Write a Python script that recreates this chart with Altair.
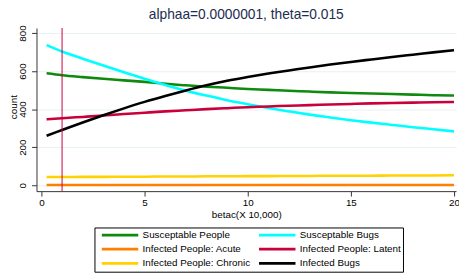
import altair as alt
import pandas as pd

# betac (X 10,000)
betac = [0.25, 1, 2, 3, 4, 5, 6, 7, 8, 9, 10, 11, 12, 13, 14, 15, 16, 17, 18, 19, 20]

susceptable_people = [588, 578, 568, 559, 551, 543, 533, 525, 518, 512, 506, 501, 496, 492, 488, 485, 482, 479, 476, 473, 471]
susceptable_bugs = [736, 703, 665, 629, 594, 560, 527, 497, 471, 447, 426, 406, 388, 371, 356, 342, 329, 317, 305, 294, 283]
infected_acute = [1, 1, 1, 1, 1, 1, 1, 1, 1, 1, 1, 1, 1, 1, 1, 1, 1, 1, 1, 1, 1]
infected_latent = [346, 352, 359, 366, 374, 381, 388, 394, 400, 405, 410, 414, 418, 421, 424, 427, 430, 432, 434, 436, 437]
infected_chronic = [43, 43, 44, 44, 45, 45, 46, 46, 47, 47, 48, 48, 49, 49, 50, 50, 50, 51, 51, 51, 52]
infected_bugs = [260, 290, 330, 368, 404, 438, 469, 498, 525, 549, 569, 587, 603, 619, 634, 648, 661, 674, 686, 698, 710]

# legend order (column-major: left column first, then right column)
series_names = [
    "Susceptable People",
    "Infected People: Acute",
    "Infected People: Chronic",
    "Susceptable Bugs",
    "Infected People: Latent",
    "Infected Bugs",
]
series_values = [
    susceptable_people,
    infected_acute,
    infected_chronic,
    susceptable_bugs,
    infected_latent,
    infected_bugs,
]
series_colors = ["#0f8a0f", "#ff8000", "#ffd200", "#00ffff", "#c8003c", "#000000"]

marker_x = [1]

y_ticks = [0, 200, 400, 600, 800]
x_ticks = [0, 5, 10, 15, 20]

rows = []
for name, vals in zip(series_names, series_values):
    for xv, yv in zip(betac, vals):
        rows.append({"betac": xv, "count": yv, "series": name})
df = pd.DataFrame(rows)

FONT = "Liberation Sans"

x_scale = alt.Scale(domain=[-0.24, 20.1], nice=False, zero=False)
y_scale = alt.Scale(domain=[-31, 826], nice=False, zero=False)

lines = alt.Chart(df).mark_line(strokeWidth=2.6, interpolate="monotone").encode(
    x=alt.X("betac:Q", scale=x_scale,
            axis=alt.Axis(values=x_ticks, title="betac(X 10,000)", grid=False,
                          tickSize=5, labelPadding=2, titlePadding=2,
                          domainColor="#333333", tickColor="#333333")),
    y=alt.Y("count:Q", scale=y_scale,
            axis=alt.Axis(values=y_ticks, title="count", grid=True, gridColor="#e8f0f2",
                          tickSize=5, labelAngle=270, labelAlign="center",
                          labelBaseline="bottom", labelPadding=4,
                          titleX=-20, titleY=80, titleAngle=270, titleAlign="center",
                          titleBaseline="alphabetic",
                          domainColor="#333333", tickColor="#333333")),
    color=alt.Color("series:N",
                    scale=alt.Scale(domain=series_names, range=series_colors),
                    sort=series_names,
                    legend=alt.Legend(
                        title=None, orient="none", legendX=59, legendY=203,
                        columns=2, columnPadding=2, rowPadding=1.5,
                        symbolType="M0,0H10", symbolSize=55, symbolStrokeWidth=3,
                        labelFontSize=10, labelFont=FONT, labelColor="#000000",
                        labelOffset=36, strokeColor="#000000", fillColor="#ffffff",
                        padding=2, labelLimit=200)),
    detail="series:N",
)

rule_df = pd.DataFrame({"x": marker_x})
rule = alt.Chart(rule_df).mark_rule(color="#c8003c", strokeWidth=1).encode(
    x=alt.X("x:Q", scale=x_scale)
)

chart = alt.layer(lines, rule).properties(
    width=427,
    height=166,
    title=alt.Title("alphaa=0.0000001, theta=0.015", fontSize=14, fontWeight="normal",
                    font=FONT, color="#1e2d50", offset=3),
    padding={"left": 29, "top": 18, "right": 3, "bottom": 85},
    autosize=alt.AutoSizeParams(type="none"),
).configure_axis(
    labelFont=FONT, titleFont=FONT, labelFontSize=10, titleFontSize=10,
    titleFontWeight="normal", labelColor="#000000", titleColor="#000000",
).configure_legend(
    strokeColor="#000000", strokeWidth=1,
).configure_view(stroke=None)

chart.save("out.html", embed_options={"renderer": "svg", "actions": False})
